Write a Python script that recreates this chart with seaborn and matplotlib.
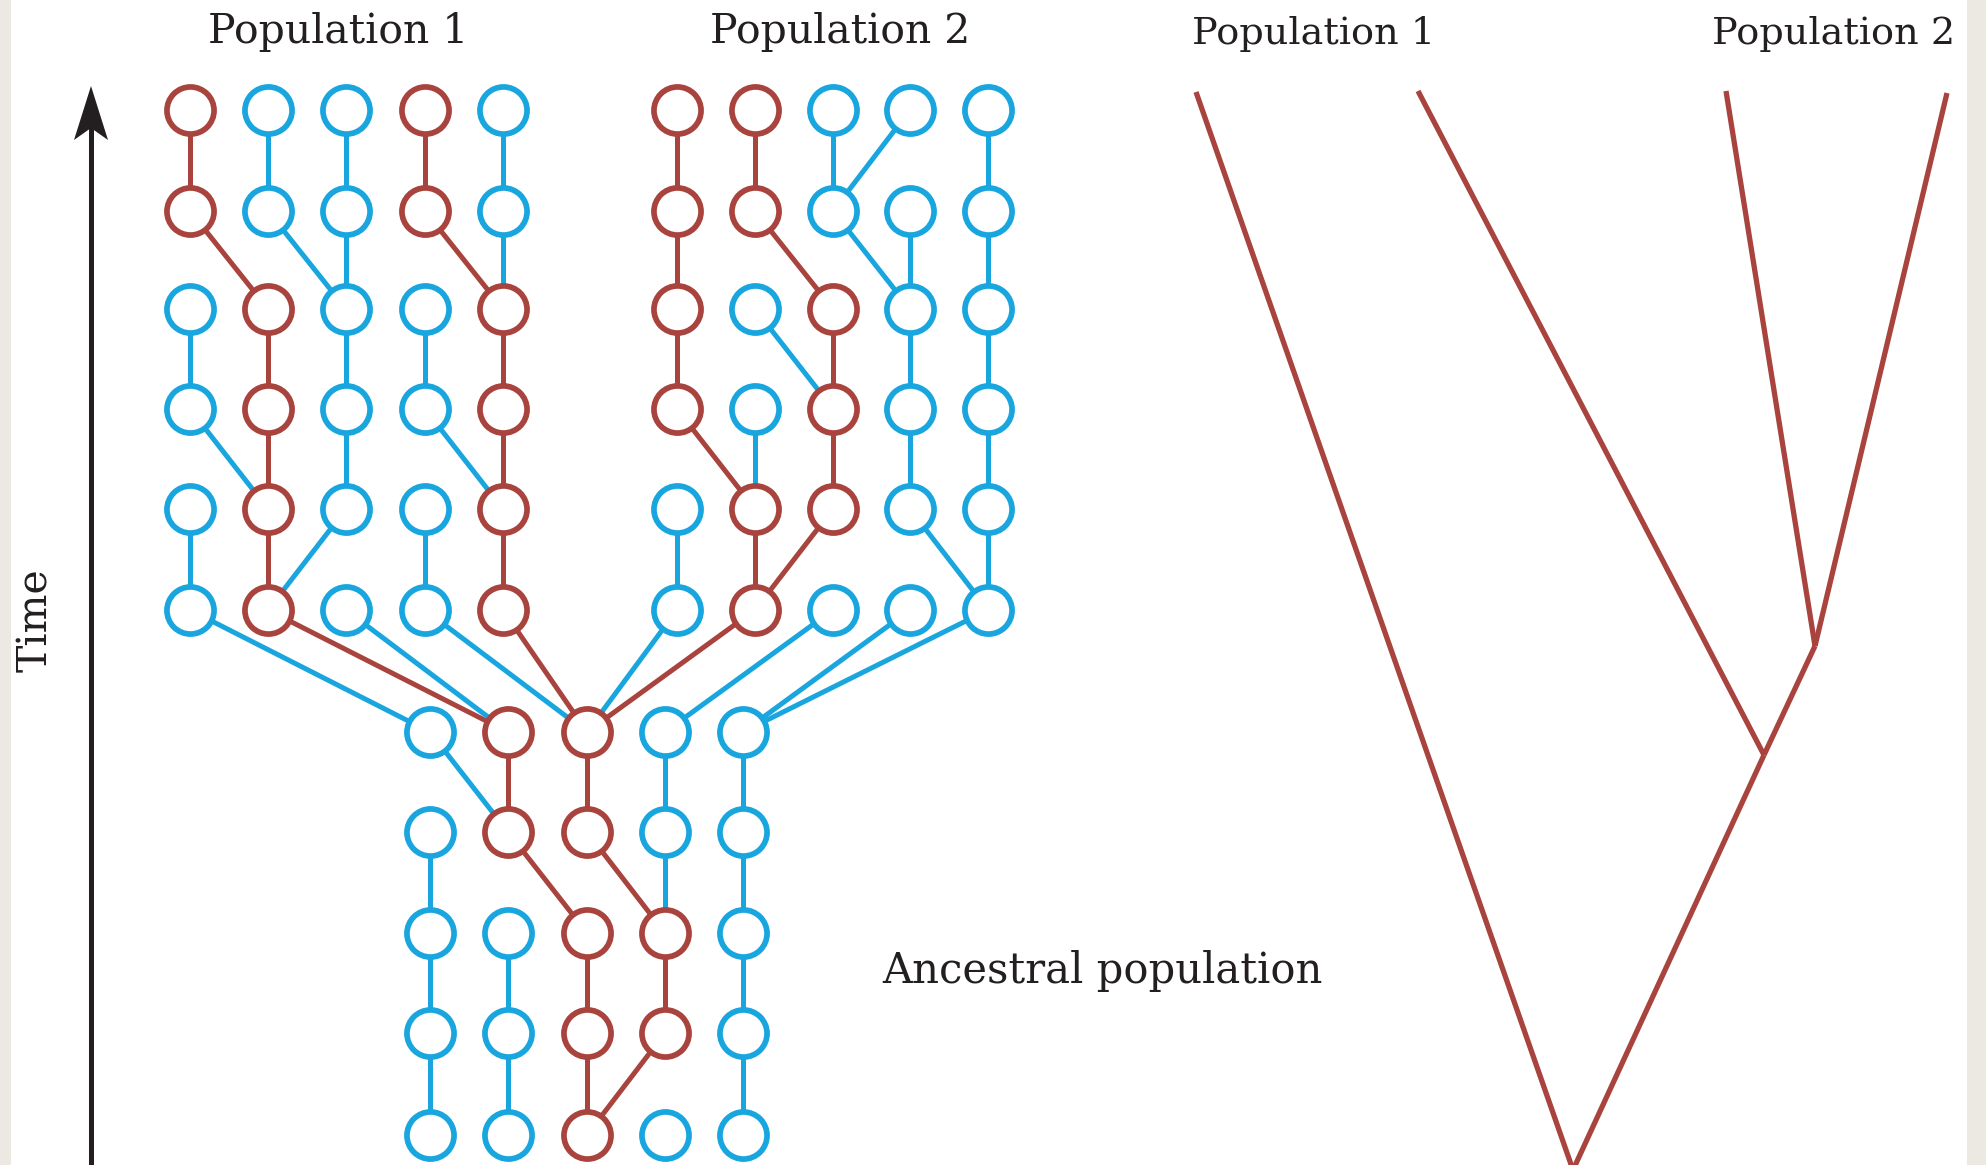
import matplotlib
matplotlib.use("Agg")
import matplotlib.pyplot as plt
from matplotlib.patches import Polygon
import pandas as pd
import seaborn as sns

RED = "#a8433e"
BLUE = "#19a6df"
INK = "#231f20"
palette = {"r": RED, "b": BLUE}

# node colour per generation, present (top) to past; r = red lineage, b = blue
pop1_colors = ["rbbrb", "rbbrb", "brbbr", "brbbr", "brbbr", "brbbr"]
pop2_colors = ["rrbbb", "rrbbb", "rbrbb", "rbrbb", "brrbb", "brbbb"]
anc_colors = ["brrbb", "brrbb", "bbrrb", "bbrrb", "bbrbb"]

# column of each node's parent in the generation below
# (last row of the two populations points into the ancestral population)
pop1_parents = [[0, 1, 2, 3, 4], [1, 2, 2, 4, 4], [0, 1, 2, 3, 4],
                [1, 1, 2, 4, 4], [0, 1, 1, 3, 4], [0, 1, 1, 2, 2]]
pop2_parents = [[0, 1, 2, 2, 4], [0, 2, 3, 3, 4], [0, 2, 2, 3, 4],
                [1, 1, 2, 3, 4], [0, 1, 1, 4, 4], [2, 2, 3, 4, 4]]
anc_parents = [[1, 1, 2, 3, 4], [0, 2, 3, 3, 4], [0, 1, 2, 3, 4],
               [0, 1, 2, 2, 4]]

# gene tree on the right: node positions and branches
tree_nodes = {"t1": (1196, 92), "t2": (1418, 91), "t3": (1726, 91),
              "t4": (1947, 93), "n3": (1815, 646), "n2": (1764, 755),
              "root": (1573, 1170)}
tree_branches = [("t1", "root"), ("t2", "n2"), ("t3", "n3"), ("t4", "n3"),
                 ("n3", "n2"), ("n2", "root")]

# layout (pixel grid)
pop1_x = [190, 268, 346, 425, 503]
pop2_x = [677, 755, 833, 910, 988]
anc_x = [430, 508, 587, 665, 743]
top_y = [110, 211, 309, 409, 509, 610]
anc_y = [732, 832, 933, 1033, 1135]

nodes = []
edges = []
seg = 0
for colors, parents, xs in [(pop1_colors, pop1_parents, pop1_x),
                            (pop2_colors, pop2_parents, pop2_x)]:
    for i, row in enumerate(colors):
        for j, c in enumerate(row):
            nodes.append({"x": xs[j], "y": top_y[i], "c": c})
            p = parents[i][j]
            if i < len(colors) - 1:
                lx, ly = xs[p], top_y[i + 1]
            else:
                lx, ly = anc_x[p], anc_y[0]
            edges.append({"seg": seg, "x": xs[j], "y": top_y[i], "c": c})
            edges.append({"seg": seg, "x": lx, "y": ly, "c": c})
            seg += 1
for i, row in enumerate(anc_colors):
    for j, c in enumerate(row):
        nodes.append({"x": anc_x[j], "y": anc_y[i], "c": c})
        if i < len(anc_parents):
            p = anc_parents[i][j]
            edges.append({"seg": seg, "x": anc_x[j], "y": anc_y[i], "c": c})
            edges.append({"seg": seg, "x": anc_x[p], "y": anc_y[i + 1], "c": c})
            seg += 1
nodes = pd.DataFrame(nodes)
edges = pd.DataFrame(edges)

tree = []
for k, (a, b) in enumerate(tree_branches):
    for n in (a, b):
        tree.append({"branch": k, "x": tree_nodes[n][0], "y": tree_nodes[n][1]})
tree = pd.DataFrame(tree)

sns.set_style("white")
plt.rcParams["font.family"] = ["DejaVu Serif"]

fig = plt.figure(figsize=(19.86, 11.65), dpi=100)
ax = fig.add_axes([0, 0, 1, 1])

# side strips
ax.axvspan(0, 11, color="#ece9e3", lw=0, zorder=0)
ax.axvspan(1967, 1986, color="#ece9e3", lw=0, zorder=0)

sns.lineplot(data=edges, x="x", y="y", units="seg", estimator=None, sort=False,
             hue="c", palette=palette, lw=3.6, legend=False, ax=ax, zorder=2)
for c in ["b", "r"]:
    sns.scatterplot(data=nodes[nodes.c == c], x="x", y="y", s=1150, marker="o",
                    facecolor="white", edgecolor=palette[c], linewidth=4.1,
                    legend=False, ax=ax, zorder=3)

sns.lineplot(data=tree, x="x", y="y", units="branch", estimator=None, sort=False,
             color=RED, lw=3.8, legend=False, ax=ax, zorder=2,
             solid_capstyle="butt")

# time arrow
ax.plot([91, 91], [125, 1170], color=INK, lw=3.6, solid_capstyle="butt")
ax.add_patch(Polygon([(91, 86), (74, 140), (91, 128), (108, 140)],
                     closed=True, color=INK, lw=0))
ax.text(36, 620, "Time", rotation=90, ha="center", va="center",
        fontsize=29.5, color=INK)

for x, label in [(338, "Population 1"), (840, "Population 2")]:
    ax.text(x, 43, label, ha="center", va="baseline", fontsize=29.5, color=INK)
for x, label in [(1314, "Population 1"), (1834, "Population 2")]:
    ax.text(x, 44, label, ha="center", va="baseline", fontsize=27.5, color=INK)
ax.text(882, 983, "Ancestral population", ha="left", va="baseline",
        fontsize=30, color=INK)

ax.set_xlim(0, 1986)
ax.set_ylim(1165, 0)
ax.axis("off")

fig.savefig("out.png", dpi=100)
